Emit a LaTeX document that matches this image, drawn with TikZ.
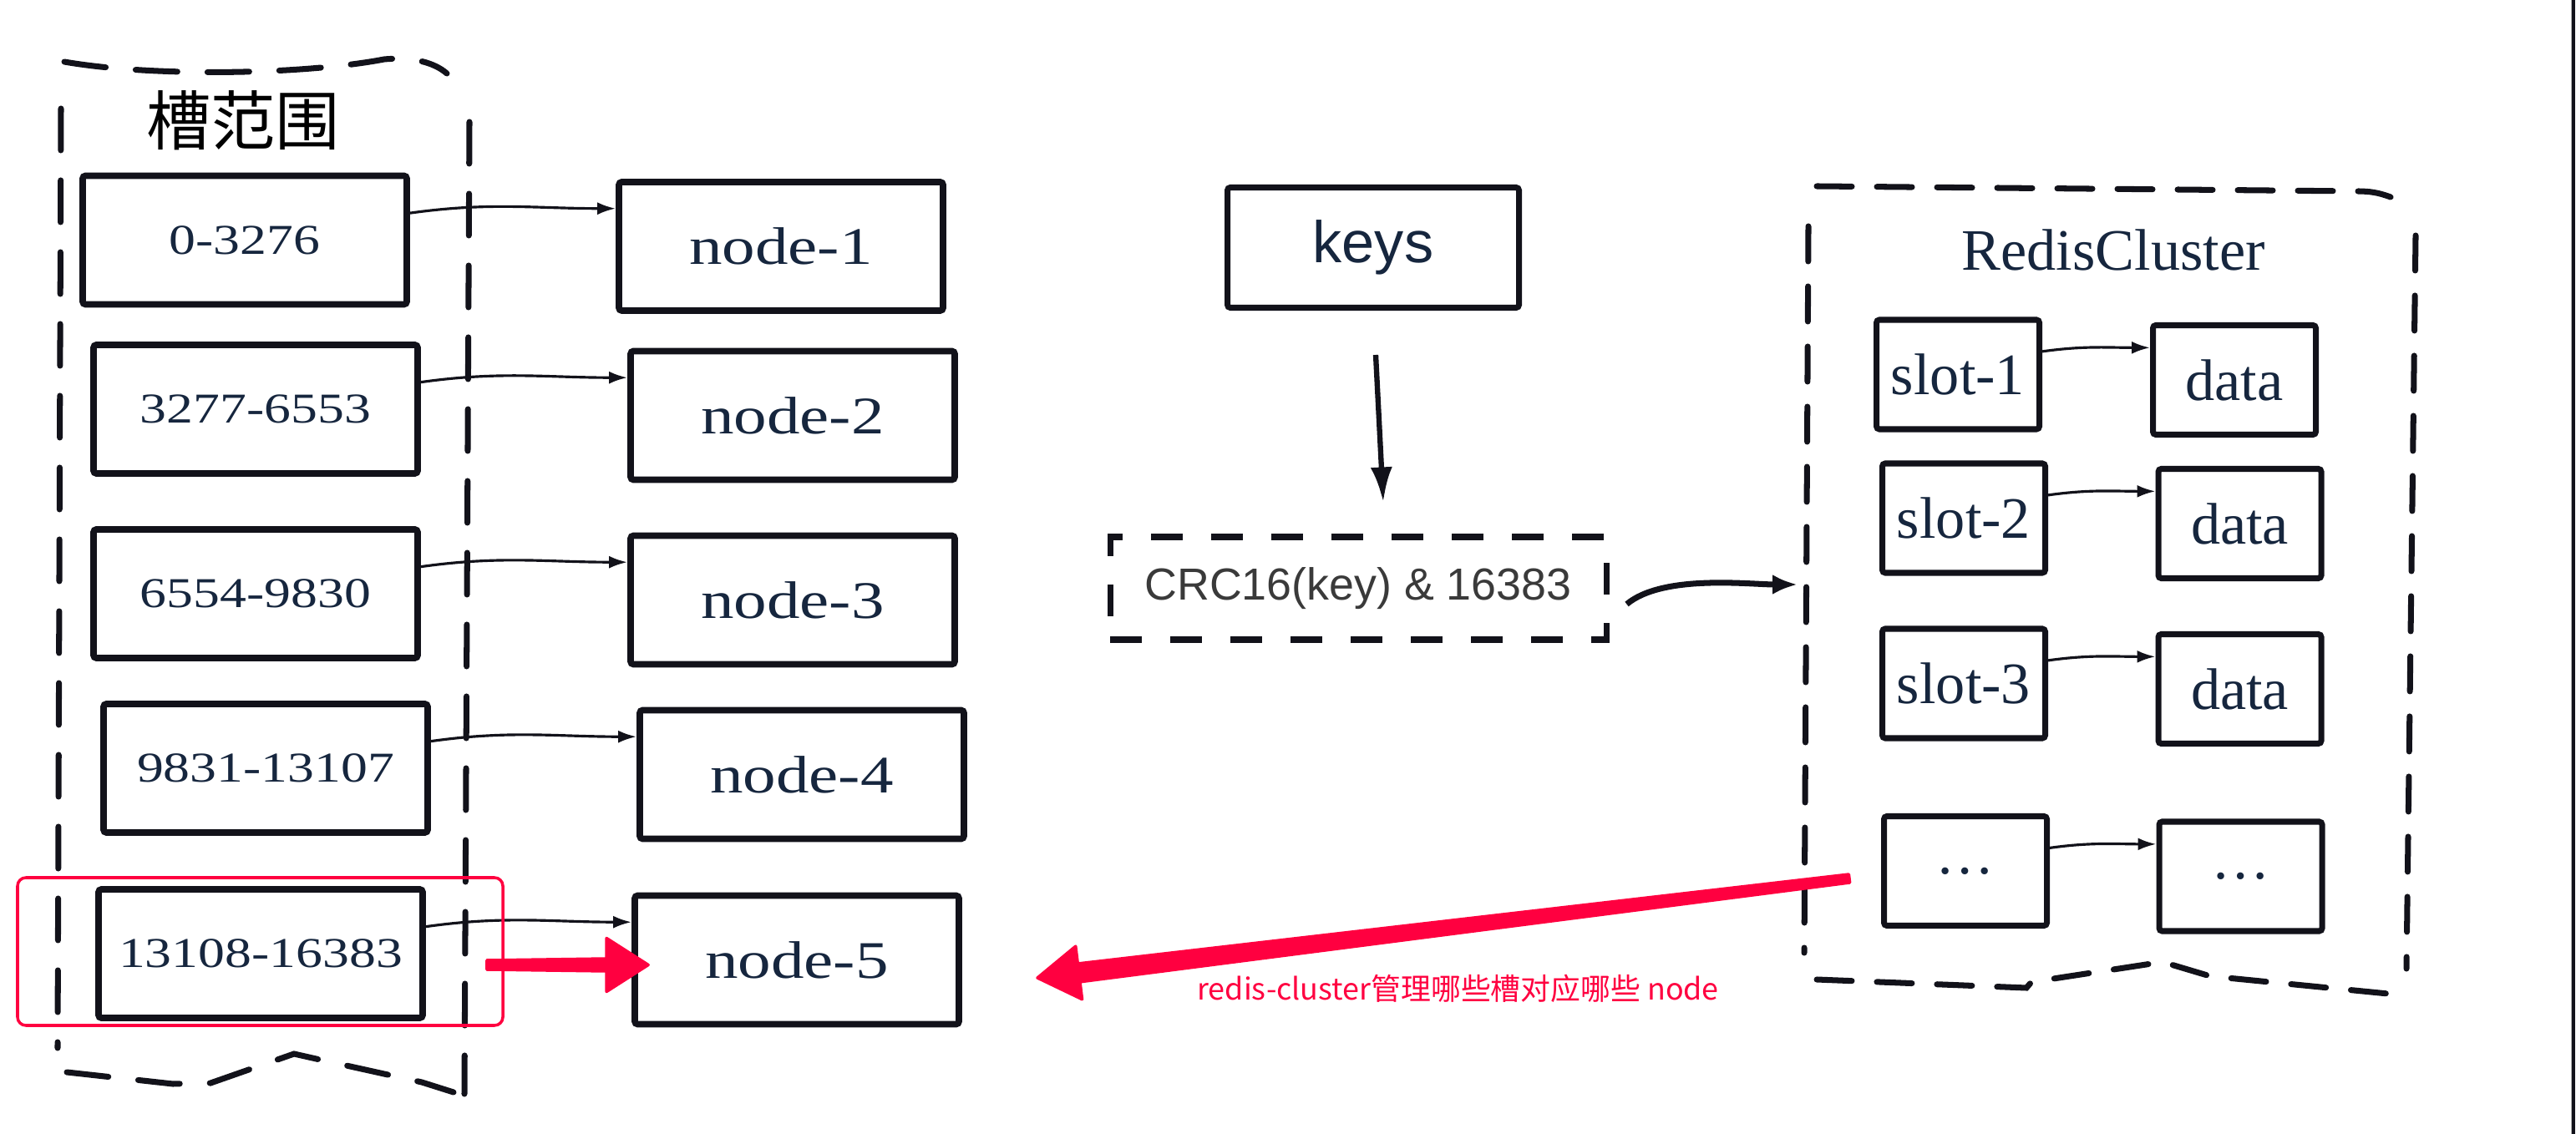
\documentclass[tikz,border=0pt]{standalone}
\usepackage{fontspec}
\usepackage{tikz}
\usetikzlibrary{arrows.meta,calc}
\setmainfont{Liberation Serif}
\setsansfont{Liberation Sans}
\newfontfamily\wideserif[FakeStretch=1.25]{Liberation Serif}
\newfontfamily\cjk{Noto Sans CJK SC}
\definecolor{inkblue}{RGB}{22,38,62}
\definecolor{inkline}{RGB}{18,18,26}
\definecolor{markred}{RGB}{255,0,64}
\definecolor{crcgray}{RGB}{58,58,58}

% tapered red arrow: tail, tip, tail half width, neck half width
\newcommand{\taperarrow}[4]{%
    \coordinate (neck) at ($(#2)!0.5cm!(#1)$);
    \fill[markred, draw=markred, line width=1pt, line join=round]
        ($(#1)!#3!90:(#2)$) -- ($(neck)!#4!90:(#2)$) -- ($(neck)!0.32cm!90:(#2)$)
        -- (#2) -- ($(neck)!0.32cm!-90:(#2)$) -- ($(neck)!#4!-90:(#2)$)
        -- ($(#1)!#3!-90:(#2)$) -- cycle;
}

\begin{document}
\begin{tikzpicture}[x=1cm, y=1cm,
    rangebox/.style={draw=inkline, line width=2.2pt, line cap=round, rounded corners=1pt,
        minimum width=3.88cm, minimum height=1.54cm, text=inkblue,
        font=\wideserif\fontsize{14.5}{17}\selectfont},
    nodebox/.style={rangebox, font=\wideserif\fontsize{18}{21}\selectfont},
    slotbox/.style={draw=inkline, line width=2pt, rounded corners=1pt,
        minimum width=1.95cm, minimum height=1.31cm, text=inkblue,
        font=\fontsize{20}{24}\selectfont},
    link/.style={draw=inkline, line width=0.9pt, -{Latex[length=0.22cm,width=0.15cm]}},
    bold link/.style={draw=inkline, line width=1.8pt, -{Latex[length=0.42cm,width=0.26cm]}},
    dashframe/.style={draw=inkline, line width=2pt, line cap=round,
        dash pattern=on 0.5cm off 0.36cm},
    ]
    \useasboundingbox (0,0) rectangle (30.84,-13.58);
    \fill[white] (0,0) rectangle (30.84,-13.58);

    % Slot ranges -> nodes
    \node[font=\cjk\fontsize{22}{26}\selectfont, text=black] (title) at (2.91,-1.44) {槽范围};
    \foreach \i/\rng/\rx/\nx/\yy in {1/0-3276/2.93/9.35/2.875, 2/3277-6553/3.06/9.49/4.90,
            3/6554-9830/3.06/9.49/7.11, 4/9831-13107/3.18/9.60/9.20, 5/13108-16383/3.12/9.54/11.42} {
        \node[rangebox] (r\i) at (\rx, -\yy) {\rng};
        \node[nodebox] (n\i) at (\nx, {-\yy-0.075}) {node-\i};
        \draw[link] ($(r\i.north east)!0.3!(r\i.south east)$) to[out=8, in=180]
            ($(n\i.north west)!0.22!(n\i.south west)$);
    }

    % Range frame
    \draw[dashframe] (0.77,-0.74) .. controls (1.8,-0.92) and (3.6,-0.9) .. (4.6,-0.71)
        .. controls (4.95,-0.68) and (5.2,-0.75) .. (5.35,-0.88);
    \draw[dashframe] (0.73,-1.30) -- (0.69,-12.55);
    \draw[dashframe] (5.62,-1.46) -- (5.56,-13.10);
    \draw[dashframe] (0.80,-12.84) -- (2.07,-12.98) -- (2.52,-12.97) -- (3.52,-12.62)
        -- (3.83,-12.69) -- (5.05,-12.96) -- (5.43,-13.08);

    % Highlight
    \node[draw=markred, line width=1pt, rounded corners=0.1cm, minimum width=5.81cm,
        minimum height=1.77cm] (hl) at (3.115,-11.395) {};
    \coordinate (redtail) at ([shift={(-0.21,-0.16)}]hl.east);
    \coordinate (redtip) at ([shift={(0.2,-0.06)}]n5.west);
    \taperarrow{redtail}{redtip}{0.055cm}{0.075cm}

    % Keys and hash
    \node[draw=inkline, line width=2pt, rounded corners=1pt, minimum width=3.49cm,
        minimum height=1.44cm, text=inkblue, font=\sffamily\fontsize{20}{24}\selectfont]
        (keys) at (16.44,-2.965) {keys};
    \node[draw=inkline, line width=2pt, dash pattern=on 0.38cm off 0.34cm, minimum width=5.94cm,
        minimum height=1.23cm, text=crcgray, font=\sffamily\fontsize{15.3}{18}\selectfont]
        (crc) at (16.26,-7.045) {CRC16(key) \& 16383};
    \draw[bold link] ([shift={(0.03,-0.53)}]keys.south) -- ([shift={(0.30,0.38)}]crc.north);
    \coordinate (clusterin) at (21.52,-7.00);
    \draw[draw=inkline, line width=2pt, -{Latex[length=0.3cm,width=0.24cm]}]
        ([shift={(0.21,-0.19)}]crc.east) to[out=40, in=180, looseness=0.7] (clusterin);

    % Redis cluster
    \node[text=inkblue, font=\fontsize{20}{24}\selectfont] (cltitle) at (25.30,-2.99) {RedisCluster};
    \foreach \i/\sl/\dl/\sx/\dx/\yy in {1/slot-1/data/23.44/26.75/4.485, 2/slot-2/data/23.51/26.815/6.205,
            3/slot-3/data/23.51/26.815/8.185, 4/\dots/\dots/23.53/26.825/10.43} {
        \node[slotbox] (s\i) at (\sx, -\yy) {\sl};
        \node[slotbox] (d\i) at (\dx, {-\yy-0.065}) {\dl};
        \draw[link] ($(s\i.north east)!0.3!(s\i.south east)$) to[out=8, in=180]
            ($(d\i.north west)!0.22!(d\i.south west)$);
    }
    \draw[dashframe, dash pattern=on 0.42cm off 0.3cm] (21.75,-2.23) -- (28.21,-2.29)
        to[out=0, in=160] (28.62,-2.36);
    \draw[dashframe, dash pattern=on 0.42cm off 0.3cm] (21.65,-2.71) -- (21.60,-11.41);
    \draw[dashframe, dash pattern=on 0.42cm off 0.3cm] (28.92,-2.82) -- (28.81,-11.60);
    \draw[dashframe, dash pattern=on 0.42cm off 0.3cm] (21.75,-11.73) -- (24.26,-11.83)
        -- (24.32,-11.76) -- (25.89,-11.52) -- (26.46,-11.69) -- (28.59,-11.90);

    % Note
    \coordinate (notetail) at ([shift={(-0.38,-0.09)}]s4.west);
    \coordinate (notetip) at (12.42,-11.71);
    \taperarrow{notetail}{notetip}{0.05cm}{0.11cm}
    \node[text=markred, font=\cjk\fontsize{10.2}{13}\selectfont, anchor=west] (note)
        at (14.21,-11.84) {redis-cluster管理哪些槽对应哪些 node};

    % Screen edge
    \draw[gray!60, line width=0.02cm] (30.785,0) -- (30.785,-13.58);
    \draw[inkline, line width=0.035cm] (30.81,0) -- (30.81,-13.58);
\end{tikzpicture}
\end{document}
